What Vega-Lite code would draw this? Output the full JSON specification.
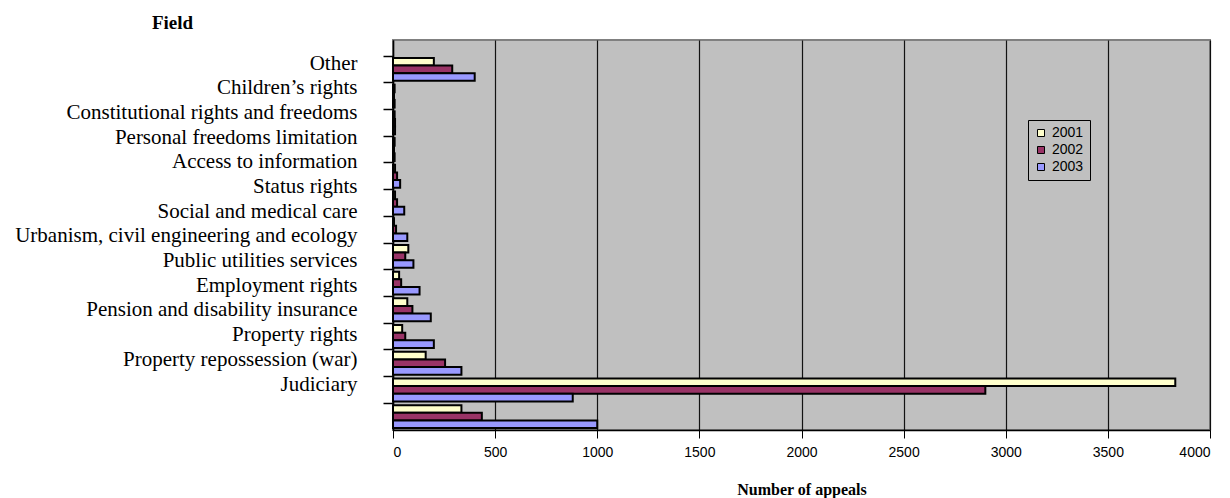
{
  "$schema": "https://vega.github.io/schema/vega-lite/v6.json",
  "width": 817,
  "height": 390,
  "autosize": {"type": "none"},
  "padding": {"left": 393, "top": 40, "right": 20, "bottom": 68},
  "background": "white",
  "config": {"view": {"fill": "#c0c0c0", "stroke": "#808080", "strokeWidth": 2}},
  "data": {"values": [
    {"field": "Other", "year": "2001", "appeals": 200},
    {"field": "Other", "year": "2002", "appeals": 290},
    {"field": "Other", "year": "2003", "appeals": 400},
    {"field": "Children’s rights", "year": "2001", "appeals": 8},
    {"field": "Children’s rights", "year": "2002", "appeals": 5},
    {"field": "Children’s rights", "year": "2003", "appeals": 8},
    {"field": "Constitutional rights and freedoms", "year": "2001", "appeals": 8},
    {"field": "Constitutional rights and freedoms", "year": "2002", "appeals": 10},
    {"field": "Constitutional rights and freedoms", "year": "2003", "appeals": 10},
    {"field": "Personal freedoms limitation", "year": "2001", "appeals": 8},
    {"field": "Personal freedoms limitation", "year": "2002", "appeals": 5},
    {"field": "Personal freedoms limitation", "year": "2003", "appeals": 8},
    {"field": "Access to information", "year": "2001", "appeals": 10},
    {"field": "Access to information", "year": "2002", "appeals": 20},
    {"field": "Access to information", "year": "2003", "appeals": 35},
    {"field": "Status rights", "year": "2001", "appeals": 10},
    {"field": "Status rights", "year": "2002", "appeals": 20},
    {"field": "Status rights", "year": "2003", "appeals": 55},
    {"field": "Social and medical care", "year": "2001", "appeals": 5},
    {"field": "Social and medical care", "year": "2002", "appeals": 15},
    {"field": "Social and medical care", "year": "2003", "appeals": 70},
    {"field": "Urbanism, civil engineering and ecology", "year": "2001", "appeals": 75},
    {"field": "Urbanism, civil engineering and ecology", "year": "2002", "appeals": 60},
    {"field": "Urbanism, civil engineering and ecology", "year": "2003", "appeals": 100},
    {"field": "Public utilities services", "year": "2001", "appeals": 30},
    {"field": "Public utilities services", "year": "2002", "appeals": 40},
    {"field": "Public utilities services", "year": "2003", "appeals": 130},
    {"field": "Employment rights", "year": "2001", "appeals": 70},
    {"field": "Employment rights", "year": "2002", "appeals": 95},
    {"field": "Employment rights", "year": "2003", "appeals": 185},
    {"field": "Pension and disability insurance", "year": "2001", "appeals": 45},
    {"field": "Pension and disability insurance", "year": "2002", "appeals": 60},
    {"field": "Pension and disability insurance", "year": "2003", "appeals": 200},
    {"field": "Property rights", "year": "2001", "appeals": 160},
    {"field": "Property rights", "year": "2002", "appeals": 255},
    {"field": "Property rights", "year": "2003", "appeals": 335},
    {"field": "Property repossession (war)", "year": "2001", "appeals": 3830},
    {"field": "Property repossession (war)", "year": "2002", "appeals": 2900},
    {"field": "Property repossession (war)", "year": "2003", "appeals": 880},
    {"field": "Judiciary", "year": "2001", "appeals": 335},
    {"field": "Judiciary", "year": "2002", "appeals": 435},
    {"field": "Judiciary", "year": "2003", "appeals": 1000}
  ]},
  "layer": [
    {
      "mark": {"type": "bar", "stroke": "black", "strokeWidth": 2},
      "encoding": {
        "y": {
          "field": "field", "type": "nominal",
          "sort": ["Other", "Children’s rights", "Constitutional rights and freedoms", "Personal freedoms limitation", "Access to information", "Status rights", "Social and medical care", "Urbanism, civil engineering and ecology", "Public utilities services", "Employment rights", "Pension and disability insurance", "Property rights", "Property repossession (war)", "Judiciary"],
          "scale": {"paddingInner": 0, "paddingOuter": 0.3, "align": 1},
          "axis": {"labels": false, "ticks": true, "tickSize": 10, "tickColor": "black", "tickWidth": 1.5, "bandPosition": 0, "domainColor": "black", "domainWidth": 1.5, "title": null}
        },
        "yOffset": {"field": "year", "type": "nominal", "scale": {"paddingInner": 0, "paddingOuter": 0.25}},
        "x": {
          "field": "appeals", "type": "quantitative",
          "scale": {"domain": [0, 4000], "nice": false},
          "axis": {"values": [0, 500, 1000, 1500, 2000, 2500, 3000, 3500, 4000], "format": "d", "grid": true, "gridColor": "black", "gridWidth": 1.2, "gridOpacity": 0.9, "domainColor": "black", "domainWidth": 1.5, "tickColor": "black", "tickSize": 8, "labelFont": "Liberation Sans", "labelFontSize": 14, "labelColor": "black", "labelPadding": 7, "title": "Number of appeals", "titleFont": "Liberation Serif", "titleFontSize": 16, "titleFontWeight": "bold", "titleColor": "black", "titlePadding": 22}
        },
        "fill": {
          "field": "year", "type": "nominal",
          "scale": {"domain": ["2001", "2002", "2003"], "range": ["#ffffcc", "#993366", "#9999ff"]},
          "legend": {"orient": "none", "legendX": 635, "legendY": 80, "title": null, "strokeColor": "black", "fillColor": "#c0c0c0", "padding": 6, "labelFont": "Liberation Sans", "labelFontSize": 14, "labelColor": "black", "symbolType": "square", "symbolSize": 49, "symbolStrokeColor": "black", "symbolStrokeWidth": 1, "rowPadding": 3}
        }
      }
    },
    {
      "mark": {"type": "point", "opacity": 0},
      "encoding": {
        "y": {
          "field": "field", "type": "nominal",
          "sort": ["Other", "Children’s rights", "Constitutional rights and freedoms", "Personal freedoms limitation", "Access to information", "Status rights", "Social and medical care", "Urbanism, civil engineering and ecology", "Public utilities services", "Employment rights", "Pension and disability insurance", "Property rights", "Property repossession (war)", "Judiciary"],
          "scale": {"type": "point", "range": [23, 344], "padding": 0},
          "axis": {"orient": "left", "ticks": false, "domain": false, "labelFont": "Liberation Serif", "labelFontSize": 21, "labelColor": "black", "labelPadding": 36, "labelLimit": 600, "title": "Field", "titleAngle": 0, "titleFont": "Liberation Serif", "titleFontSize": 19, "titleFontWeight": "bold", "titleColor": "black", "titleAlign": "center", "titleBaseline": "middle", "titleX": -221, "titleY": -18}
        }
      }
    }
  ],
  "resolve": {"scale": {"y": "independent"}, "axis": {"y": "independent"}}
}
